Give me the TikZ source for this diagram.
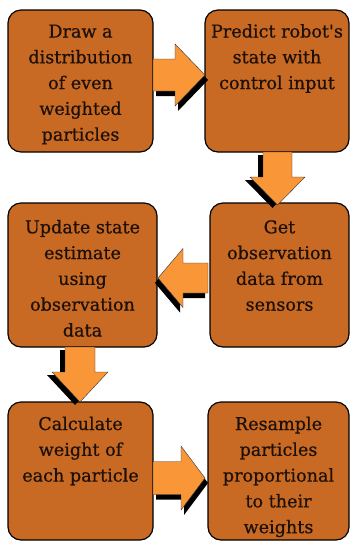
\documentclass[tikz,border=0pt]{standalone}
\usepackage{fontspec}
\setmainfont{DejaVu Serif}[FakeBold=0.6]
\definecolor{boxorange}{RGB}{201,106,36}
\definecolor{arroworange}{RGB}{248,150,56}
\definecolor{textdark}{RGB}{28,16,8}

% Block arrow pointing along local +x, tail at the local origin.
% #1 placement, #2 length, #3 head length, #4 shaft half width, #5 head half width
\newcommand\flowarrow[5]{%
  \begin{scope}[#1]
    \fill[arrowshadow, shift={(3,5)}]
      (0,-#4) -- (#2-#3,-#4) -- (#2-#3,-#5) -- (#2,0) -- (#2-#3,#5) -- (#2-#3,#4) -- (0,#4) -- cycle;
    \filldraw[arrowbody]
      (0,-#4) -- (#2-#3,-#4) -- (#2-#3,-#5) -- (#2,0) -- (#2-#3,#5) -- (#2-#3,#4) -- (0,#4) -- cycle;
  \end{scope}}

\begin{document}
\begin{tikzpicture}[x=1pt, y=-1pt,
  stage/.style={draw=black, line width=1.2pt, fill=boxorange, rounded corners=13pt, inner sep=0pt},
  stagetext/.style={anchor=base, align=center, text=textdark, inner sep=0pt,
                    font=\fontsize{17.6}{25.8}\selectfont},
  arrowbody/.style={fill=arroworange, draw=black!80, line width=0.4pt},
  arrowshadow/.style={fill=black}]
\useasboundingbox (0,0) rectangle (351,542);

% process boxes
\node[stage, minimum width=145pt, minimum height=142pt] (b1) at (80.5,81) {};
\node[stage, minimum width=144pt, minimum height=142pt] (b2) at (277,81) {};
\node[stage, minimum width=149pt, minimum height=144pt] (b3) at (82.5,275) {};
\node[stage, minimum width=139pt, minimum height=144pt] (b4) at (279.5,275) {};
\node[stage, minimum width=145pt, minimum height=138pt] (b5) at (80.5,471) {};
\node[stage, minimum width=141pt, minimum height=138pt] (b6) at (278.5,471) {};

% box labels (anchored on the baseline of the last line)
\node[stagetext] (t1) at (b1.center |- 0,140.7) {Draw a\\distribution\\of even\\weighted\\particles};
\node[stagetext] (t2) at (b2.center |- 0,89.1) {Predict robot\textquotesingle s\\state with\\control input};
\node[stagetext] (t3) at (b3.center |- 0,336.5) {Update state\\estimate\\using\\observation\\data};
\node[stagetext] (t4) at (b4.center |- 0,310.7) {Get\\observation\\data from\\sensors};
\node[stagetext] (t5) at (b5.center |- 0,481.6) {Calculate\\weight of\\each particle};
\node[stagetext] (t6) at (b6.center |- 0,533.2) {Resample\\particles\\proportional\\to their\\weights};

% flow arrows between the boxes
\coordinate (a1) at (153,75);
\coordinate (a2) at (277.5,152);
\coordinate (a3) at (208,278);
\coordinate (a4) at (80,347);
\coordinate (a5) at (153,478);
\flowarrow{shift={(a1)}}{52}{30}{16}{31}
\flowarrow{shift={(a2)}, rotate=-90}{53}{28}{14.5}{27.5}
\flowarrow{shift={(a3)}, xscale=-1}{50}{25}{15}{29.5}
\flowarrow{shift={(a4)}, rotate=-90}{55}{30}{15}{28}
\flowarrow{shift={(a5)}}{52}{24}{16.5}{32}
\end{tikzpicture}
\end{document}
